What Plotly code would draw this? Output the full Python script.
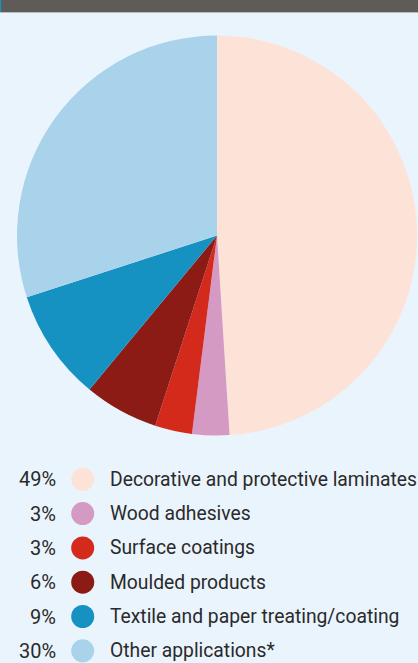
import plotly.graph_objects as go

# Application shares
categories = [
    "Decorative and protective laminates",
    "Wood adhesives",
    "Surface coatings",
    "Moulded products",
    "Textile and paper treating/coating",
    "Other applications*",
]
shares = [49, 3, 3, 6, 9, 30]
colors = ["#fde3d7", "#d59ac4", "#d42a1b", "#8d1b15", "#1592c2", "#a9d3ea"]

W, H = 418, 663
BG = "#eaf4fd"
TXT = "#2a2a2a"
FONT = "Roboto, Liberation Sans, sans-serif"

fig = go.Figure()

# Pie: 400 px square, top edge at 36 px
pie_top, pie_bot = 35, 436
fig.add_trace(go.Pie(
    labels=categories,
    values=shares,
    sort=False,
    direction="clockwise",
    rotation=0,
    marker=dict(colors=colors, line=dict(width=0)),
    textinfo="none",
    hoverinfo="label+percent",
    showlegend=False,
    domain=dict(x=[17 / W, 417 / W], y=[1 - pie_bot / H, 1 - pie_top / H]),
))

# Legend rows drawn on a hidden axis: x in px, y = row index
row0, step = 479.3, 34.3
rows = list(range(len(categories)))
fig.add_trace(go.Scatter(
    x=[82.7] * len(rows),
    y=rows,
    mode="markers",
    marker=dict(size=23, color=colors, line=dict(width=0)),
    hoverinfo="skip",
    showlegend=False,
    xaxis="x", yaxis="y",
))

for i, (cat, val) in enumerate(zip(categories, shares)):
    fig.add_annotation(x=57.5, y=i, xref="x", yref="y", text=f"{val}%",
                       xanchor="right", yanchor="middle", showarrow=False,
                       font=dict(size=20, color=TXT, family=FONT))
    fig.add_annotation(x=108, y=i, xref="x", yref="y", text=cat,
                       xanchor="left", yanchor="middle", showarrow=False,
                       font=dict(size=19.3, color=TXT, family=FONT))

# Header bar
fig.add_shape(type="rect", xref="paper", yref="paper",
              x0=0, x1=1, y0=1 - 12 / H, y1=1,
              fillcolor="#5f5b57", line=dict(width=0), layer="above")
fig.add_shape(type="rect", xref="paper", yref="paper",
              x0=0, x1=1, y0=1 - 13 / H, y1=1 - 12 / H,
              fillcolor="#b9bcbf", line=dict(width=0), layer="above")
fig.add_shape(type="rect", xref="paper", yref="paper",
              x0=0, x1=1.2 / W, y0=1 - 12 / H, y1=1,
              fillcolor="#1592c2", line=dict(width=0), layer="above")

fig.update_layout(
    width=W, height=H,
    margin=dict(l=0, r=0, t=0, b=0),
    paper_bgcolor=BG, plot_bgcolor="rgba(0,0,0,0)",
    xaxis=dict(range=[0, W], domain=[0, 1], visible=False, fixedrange=True),
    yaxis=dict(range=[(H - row0) / step, -row0 / step], domain=[0, 1],
               visible=False, fixedrange=True),
)

fig.write_html("out.html")
